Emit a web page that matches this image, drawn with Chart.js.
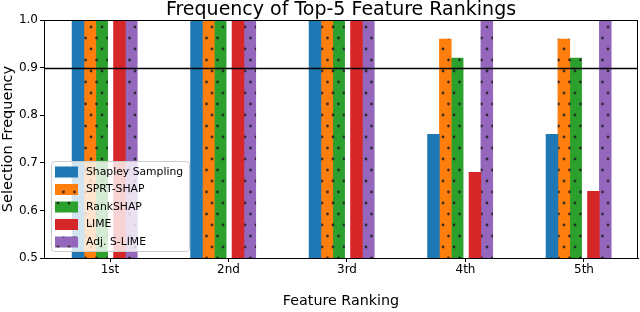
<div style="width:640px;height:312px"><canvas id="myChart"></canvas></div>
<script src="https://cdn.jsdelivr.net/npm/chart.js"></script>
<script>
    // feature ranks on the x axis
    const rankLabels = ['1st', '2nd', '3rd', '4th', '5th'];
    // selection frequency of each method
    const shapleySampling = [1.0, 1.0, 1.0, 0.76, 0.76];
    const sprtShap = [1.0, 1.0, 1.0, 0.96, 0.96];
    const rankShap = [1.0, 1.0, 1.0, 0.92, 0.92];
    const lime = [1.0, 1.0, 1.0, 0.68, 0.64];
    const adjSLime = [1.0, 1.0, 1.0, 1.0, 1.0];
    const threshold = 0.9;

    document.body.style.margin = '0';
    Chart.defaults.font.family = 'DejaVu Sans';
    Chart.defaults.color = '#000';

    // matplotlib-like '.' hatch
    function makePattern(color) {
        const c = document.createElement('canvas');
        c.width = 11;
        c.height = 22;
        const g = c.getContext('2d');
        g.fillStyle = color;
        g.fillRect(0, 0, 11, 22);
        g.fillStyle = 'rgba(30,30,30,0.85)';
        for (let p of [[3, 5], [8.5, 16]]) {
            g.beginPath();
            g.arc(p[0], p[1], 1.4, 0, Math.PI * 2);
            g.fill();
        }
        return g.createPattern(c, 'repeat');
    }

    // bar offset from each rank, in x units (bar width 0.1)
    const series = [
        {label: 'Shapley Sampling', data: shapleySampling, fill: '#1f77b4', shift: -0.27},
        {label: 'SPRT-SHAP', data: sprtShap, fill: makePattern('#ff7f0e'), shift: -0.17},
        {label: 'RankSHAP', data: rankShap, fill: makePattern('#2ca02c'), shift: -0.07},
        {label: 'LIME', data: lime, fill: '#d62728', shift: 0.08},
        {label: 'Adj. S-LIME', data: adjSLime, fill: makePattern('#9467bd'), shift: 0.18},
    ];

    const datasets = series.map(function (s) {
        return {
            label: s.label,
            data: s.data.map((v, i) => ({x: i + s.shift, y: v})),
            backgroundColor: s.fill,
            grouped: false,
            categoryPercentage: 1,
            barPercentage: 1,
        };
    });

    const extras = {
        id: 'extras',
        afterDatasetsDraw(chart) {
            const {ctx, chartArea: a, scales: {y}} = chart;
            ctx.save();
            const ty = Math.round(y.getPixelForValue(threshold)) + 0.5;
            ctx.strokeStyle = '#000';
            ctx.lineWidth = 1.5;
            ctx.beginPath();
            ctx.moveTo(a.left, ty);
            ctx.lineTo(a.right, ty);
            ctx.stroke();

            ctx.lineWidth = 1;
            const l = Math.round(a.left) + 0.5, r = Math.round(a.right) - 0.5;
            const t = Math.round(a.top) + 0.5, b = Math.round(a.bottom) + 0.5;
            ctx.strokeRect(l, t, r - l, b - t);

            // legend inside the axes, lower left
            const bx = a.left + 7, bw = 138, bh = 90, by = a.bottom - 7 - bh;
            ctx.fillStyle = 'rgba(255,255,255,0.8)';
            ctx.strokeStyle = '#cccccc';
            ctx.beginPath();
            ctx.roundRect(bx + 0.5, by + 0.5, bw, bh, 3);
            ctx.fill();
            ctx.stroke();
            ctx.font = '10.8px DejaVu Sans';
            ctx.textBaseline = 'middle';
            series.forEach(function (s, i) {
                const cy = by + 11 + i * 17.5;
                ctx.fillStyle = s.fill;
                ctx.fillRect(bx + 4, cy - 5.5, 23, 11);
                ctx.fillStyle = '#000';
                ctx.fillText(s.label, bx + 35, cy);
            });
            ctx.restore();
        }
    };

    new Chart(document.getElementById('myChart'), {
        type: 'bar',
        data: {datasets: datasets},
        options: {
            responsive: true,
            maintainAspectRatio: false,
            animation: false,
            layout: {padding: {right: 2, left: 0, top: 1, bottom: 0}},
            plugins: {
                legend: {display: false},
                tooltip: {enabled: false},
                title: {
                    display: true,
                    text: 'Frequency of Top-5 Feature Rankings',
                    fullSize: false,
                    font: {size: 19, weight: 'normal', lineHeight: 1},
                    padding: {top: 0, bottom: 0},
                    color: '#000',
                },
            },
            scales: {
                x: {
                    type: 'linear',
                    min: -0.557,
                    max: 4.456,
                    offset: false,
                    afterBuildTicks: function (scale) {
                        scale.ticks = rankLabels.map((_, i) => ({value: i}));
                    },
                    afterFit: function (scale) {
                        scale.height = 54;
                    },
                    ticks: {
                        callback: (v) => rankLabels[v],
                        font: {size: 12},
                        padding: 1,
                        maxRotation: 0,
                        autoSkip: false,
                    },
                    grid: {drawOnChartArea: false, offset: false, tickLength: 4, tickColor: '#000'},
                    border: {color: '#000'},
                    title: {display: true, text: 'Feature Ranking', font: {size: 14.3}, padding: {top: 0, bottom: 2}},
                },
                y: {
                    min: 0.5,
                    max: 1.0,
                    afterFit: function (scale) {
                        scale.width = 44;
                    },
                    ticks: {
                        stepSize: 0.1,
                        callback: (v) => v.toFixed(1),
                        font: {size: 12},
                        padding: 2,
                    },
                    grid: {drawOnChartArea: false, tickLength: 4, tickColor: '#000'},
                    border: {color: '#000'},
                    title: {display: true, text: 'Selection Frequency', font: {size: 14.5}, padding: {top: 0, bottom: 0}},
                },
            },
        },
        plugins: [extras],
    });
</script>
